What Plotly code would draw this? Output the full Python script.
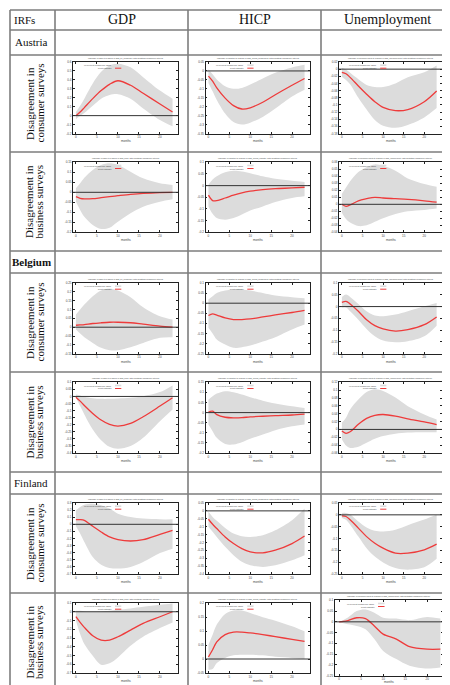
import plotly.graph_objects as go

W, H = 450, 685

# ---------------- data ----------------
months = [0, 1, 2, 4, 6, 8, 10, 13, 16, 20, 23]
x_tick_vals = [0, 5, 10, 15, 20]

header_labels = ["IRFs", "GDP", "HICP", "Unemployment"]
countries = ["Austria", "Belgium", "Finland"]
survey_lines = [["Disagreement in", "consumer surveys"], ["Disagreement in", "business surveys"]]

# Austria - consumer surveys
aut_cons_gdp_pt = [0.0, 0.04, 0.09, 0.19, 0.28, 0.35, 0.39, 0.34, 0.25, 0.13, 0.04]
aut_cons_gdp_lo = [-0.04, 0.0, 0.03, 0.11, 0.19, 0.23, 0.24, 0.19, 0.08, -0.05, -0.12]
aut_cons_gdp_hi = [0.04, 0.11, 0.19, 0.36, 0.49, 0.56, 0.58, 0.54, 0.43, 0.28, 0.19]

aut_cons_hicp_pt = [-0.029, -0.057, -0.095, -0.152, -0.194, -0.213, -0.206, -0.175, -0.133, -0.08, -0.042]
aut_cons_hicp_lo = [-0.067, -0.114, -0.162, -0.238, -0.286, -0.30, -0.29, -0.257, -0.21, -0.143, -0.105]
aut_cons_hicp_hi = [0.01, -0.019, -0.048, -0.086, -0.1, -0.095, -0.076, -0.042, -0.01, 0.019, 0.034]

aut_cons_unemp_pt = [-0.009, -0.013, -0.023, -0.047, -0.07, -0.091, -0.107, -0.116, -0.113, -0.091, -0.061]
aut_cons_unemp_lo = [-0.021, -0.03, -0.042, -0.08, -0.113, -0.142, -0.158, -0.164, -0.156, -0.135, -0.109]
aut_cons_unemp_hi = [0.004, -0.001, -0.01, -0.028, -0.044, -0.05, -0.05, -0.04, -0.023, -0.009, 0.01]

# Austria - business surveys
aut_bus_gdp_pt = [-0.022, -0.03, -0.033, -0.032, -0.027, -0.022, -0.017, -0.01, -0.005, -0.002, 0.0]
aut_bus_gdp_lo = [-0.047, -0.088, -0.122, -0.163, -0.183, -0.177, -0.147, -0.105, -0.072, -0.047, -0.035]
aut_bus_gdp_hi = [0.02, 0.045, 0.073, 0.112, 0.137, 0.145, 0.137, 0.103, 0.07, 0.045, 0.037]

aut_bus_hicp_pt = [-0.041, -0.064, -0.064, -0.053, -0.041, -0.031, -0.024, -0.017, -0.013, -0.01, -0.007]
aut_bus_hicp_lo = [-0.089, -0.121, -0.139, -0.146, -0.139, -0.124, -0.107, -0.089, -0.07, -0.053, -0.046]
aut_bus_hicp_hi = [0.004, 0.026, 0.04, 0.057, 0.064, 0.061, 0.053, 0.04, 0.029, 0.021, 0.016]

aut_bus_unemp_pt = [0.0, -0.003, -0.001, 0.005, 0.008, 0.01, 0.009, 0.008, 0.007, 0.005, 0.003]
aut_bus_unemp_lo = [-0.012, -0.021, -0.026, -0.031, -0.03, -0.025, -0.02, -0.014, -0.01, -0.008, -0.006]
aut_bus_unemp_hi = [0.015, 0.024, 0.033, 0.046, 0.053, 0.057, 0.055, 0.048, 0.037, 0.029, 0.025]

# Belgium - consumer surveys
bel_cons_gdp_pt = [0.011, 0.013, 0.015, 0.021, 0.025, 0.028, 0.028, 0.025, 0.017, 0.006, 0.0]
bel_cons_gdp_lo = [-0.013, -0.036, -0.057, -0.089, -0.117, -0.13, -0.13, -0.113, -0.089, -0.06, -0.057]
bel_cons_gdp_hi = [0.072, 0.1, 0.128, 0.175, 0.208, 0.217, 0.208, 0.17, 0.113, 0.062, 0.043]

bel_cons_hicp_pt = [-0.061, -0.053, -0.059, -0.073, -0.081, -0.081, -0.078, -0.068, -0.058, -0.046, -0.036]
bel_cons_hicp_lo = [-0.122, -0.15, -0.18, -0.205, -0.221, -0.218, -0.21, -0.19, -0.168, -0.13, -0.106]
bel_cons_hicp_hi = [0.018, 0.035, 0.051, 0.063, 0.068, 0.068, 0.063, 0.051, 0.038, 0.03, 0.025]

bel_cons_unemp_pt = [0.018, 0.022, 0.011, -0.02, -0.056, -0.081, -0.095, -0.104, -0.098, -0.077, -0.044]
bel_cons_unemp_lo = [-0.004, -0.004, -0.02, -0.056, -0.095, -0.126, -0.144, -0.151, -0.147, -0.126, -0.081]
bel_cons_unemp_hi = [0.041, 0.051, 0.041, 0.011, -0.02, -0.038, -0.041, -0.034, -0.02, 0.001, 0.015]

# Belgium - business surveys
bel_bus_gdp_pt = [-0.005, -0.033, -0.064, -0.12, -0.167, -0.198, -0.21, -0.191, -0.144, -0.068, -0.009]
bel_bus_gdp_lo = [-0.009, -0.068, -0.127, -0.233, -0.309, -0.356, -0.37, -0.351, -0.292, -0.175, -0.092]
bel_bus_gdp_hi = [0.014, 0.007, -0.002, -0.012, -0.017, -0.017, -0.014, -0.009, 0.002, 0.031, 0.078]

bel_bus_hicp_pt = [0.003, 0.007, -0.01, -0.023, -0.026, -0.025, -0.021, -0.018, -0.015, -0.012, -0.008]
bel_bus_hicp_lo = [-0.059, -0.092, -0.125, -0.155, -0.158, -0.147, -0.13, -0.109, -0.087, -0.068, -0.059]
bel_bus_hicp_hi = [0.064, 0.081, 0.094, 0.106, 0.101, 0.089, 0.076, 0.059, 0.045, 0.031, 0.023]

bel_bus_unemp_pt = [-0.004, -0.01, -0.006, 0.013, 0.028, 0.036, 0.038, 0.034, 0.027, 0.019, 0.012]
bel_bus_unemp_lo = [-0.025, -0.041, -0.047, -0.044, -0.034, -0.024, -0.017, -0.011, -0.008, -0.007, -0.007]
bel_bus_unemp_hi = [0.017, 0.03, 0.051, 0.076, 0.095, 0.102, 0.098, 0.081, 0.059, 0.038, 0.025]

# Finland - consumer surveys
fin_cons_gdp_pt = [0.066, 0.066, 0.056, -0.028, -0.108, -0.178, -0.216, -0.235, -0.216, -0.141, -0.085]
fin_cons_gdp_lo = [-0.028, -0.131, -0.249, -0.46, -0.568, -0.615, -0.624, -0.601, -0.53, -0.404, -0.343]
fin_cons_gdp_hi = [0.197, 0.244, 0.277, 0.291, 0.268, 0.221, 0.15, 0.103, 0.08, 0.07, 0.07]

fin_cons_hicp_pt = [-0.053, -0.085, -0.112, -0.165, -0.207, -0.239, -0.26, -0.266, -0.249, -0.207, -0.159]
fin_cons_hicp_lo = [-0.101, -0.133, -0.165, -0.228, -0.281, -0.323, -0.345, -0.355, -0.345, -0.313, -0.281]
fin_cons_hicp_hi = [-0.006, -0.038, -0.063, -0.108, -0.144, -0.161, -0.165, -0.154, -0.123, -0.059, 0.015]

fin_cons_unemp_pt = [-0.004, -0.007, -0.021, -0.056, -0.092, -0.12, -0.141, -0.162, -0.162, -0.148, -0.124]
fin_cons_unemp_lo = [-0.013, -0.021, -0.042, -0.092, -0.141, -0.176, -0.201, -0.225, -0.232, -0.222, -0.186]
fin_cons_unemp_hi = [0.008, 0.008, 0.001, -0.028, -0.053, -0.067, -0.07, -0.063, -0.044, -0.02, 0.0]

# Finland - business surveys
fin_bus_gdp_pt = [-0.057, -0.122, -0.179, -0.274, -0.324, -0.324, -0.286, -0.21, -0.133, -0.057, 0.0]
fin_bus_gdp_lo = [-0.103, -0.255, -0.37, -0.503, -0.606, -0.59, -0.522, -0.389, -0.286, -0.187, -0.122]
fin_bus_gdp_hi = [0.011, 0.011, 0.004, 0.0, 0.004, 0.011, 0.023, 0.038, 0.057, 0.08, 0.095]

fin_bus_hicp_pt = [0.007, 0.033, 0.061, 0.087, 0.096, 0.096, 0.093, 0.087, 0.08, 0.07, 0.063]
fin_bus_hicp_lo = [-0.038, -0.036, -0.014, 0.004, 0.013, 0.015, 0.015, 0.013, 0.008, 0.004, 0.0]
fin_bus_hicp_hi = [0.051, 0.087, 0.123, 0.161, 0.173, 0.173, 0.164, 0.149, 0.137, 0.117, 0.099]

fin_bus_unemp_pt = [0.0, 0.002, 0.006, 0.019, 0.015, -0.019, -0.057, -0.08, -0.115, -0.127, -0.127]
fin_bus_unemp_lo = [-0.003, -0.006, -0.011, -0.019, -0.034, -0.08, -0.135, -0.173, -0.204, -0.217, -0.212]
fin_bus_unemp_hi = [0.0, 0.009, 0.02, 0.05, 0.057, 0.042, 0.019, 0.015, 0.008, 0.023, 0.015]

# y-axis ranges/steps (tick labels) per panel
yaxis_specs = {
    "aut_cons_gdp": (-0.2, 0.6, 0.1), "aut_cons_hicp": (-0.35, 0.05, 0.05), "aut_cons_unemp": (-0.18, 0.02, 0.02),
    "aut_bus_gdp": (-0.2, 0.15, 0.05), "aut_bus_hicp": (-0.2, 0.1, 0.05), "aut_bus_unemp": (-0.04, 0.06, 0.01),
    "bel_cons_gdp": (-0.15, 0.25, 0.05), "bel_cons_hicp": (-0.25, 0.1, 0.05), "bel_cons_unemp": (-0.2, 0.1, 0.05),
    "bel_bus_gdp": (-0.4, 0.1, 0.05), "bel_bus_hicp": (-0.2, 0.15, 0.05), "bel_bus_unemp": (-0.06, 0.12, 0.02),
    "fin_cons_gdp": (-0.7, 0.3, 0.1), "fin_cons_hicp": (-0.4, 0.05, 0.05), "fin_cons_unemp": (-0.25, 0.05, 0.05),
    "fin_bus_gdp": (-0.7, 0.1, 0.1), "fin_bus_hicp": (-0.05, 0.2, 0.05), "fin_bus_unemp": (-0.25, 0.1, 0.05),
}

shock_names = {
    "cons": ["diss_av_consumer", "diss_prices_consumers", "diss_unemployment"],
    "bus": ["diss_prod", "diss_prices_industry", "diss_employment"],
}
resp_names = ["GDP", "inflation", "unemployment"]

data = globals()

# ---------------- layout geometry (pixels) ----------------
h_lines = [2, 22, 47, 144, 243, 265, 364, 464, 486, 585, 683]
v_lines = [2, 47, 180, 313, 446]
col_box = [(65, 170), (197.5, 302), (331, 434)]
row_box = [(54, 125.5), (154.3, 224.3), (275, 345.7), (374.3, 445), (495, 566), (595, 665)]
plot_rows = [(47, 144), (144, 243), (265, 364), (364, 464), (486, 585), (585, 683)]
country_rows = [(22, 47), (243, 265), (464, 486)]

SERIF = "Liberation Serif"
SANS = "Liberation Sans"


def px(p):
    return p / W


def py(p):
    return 1 - p / H


fig = go.Figure()
shapes = []
annotations = []
layout_axes = {}

keys = []
for ci, cc in enumerate(["aut", "bel", "fin"]):
    for si, ss in enumerate(["cons", "bus"]):
        for vi, vv in enumerate(["gdp", "hicp", "unemp"]):
            keys.append((ci * 2 + si, vi, f"{cc}_{ss}_{vv}", ss))

for k, (ri, vi, key, ss) in enumerate(keys):
    n = k + 1
    xa = "x" if n == 1 else f"x{n}"
    ya = "y" if n == 1 else f"y{n}"
    l, r = col_box[vi]
    t, b = row_box[ri]
    xr = [-0.7, 24.3]
    lab_off = 8
    if key == "fin_bus_unemp":
        l, r, t, b = 326.7, 435, 592.3, 667.7
        xr = [-1.0, 23.6]
        lab_off = 6.5
    pt = data[key + "_pt"]
    lo = data[key + "_lo"]
    hi = data[key + "_hi"]
    ymin, ymax, step = yaxis_specs[key]

    fig.add_trace(go.Scatter(x=months, y=lo, xaxis=xa, yaxis=ya, mode="lines",
                             line=dict(width=0, shape="spline", smoothing=0.9),
                             hoverinfo="skip", showlegend=False))
    fig.add_trace(go.Scatter(x=months, y=hi, xaxis=xa, yaxis=ya, mode="lines",
                             line=dict(width=0, shape="spline", smoothing=0.9),
                             fill="tonexty", fillcolor="#dcdcdc",
                             hoverinfo="skip", showlegend=False))
    fig.add_trace(go.Scatter(x=months, y=pt, xaxis=xa, yaxis=ya, mode="lines",
                             line=dict(width=1.3, color="#ee3b3b", shape="spline", smoothing=0.9),
                             showlegend=False))

    nt = int(round((ymax - ymin) / step))
    yt = [round(ymin + i * step, 4) for i in range(nt + 1)]
    ytxt = [("%g" % v) if abs(v) > 1e-9 else "0" for v in yt]

    common = dict(showline=True, mirror="ticks", linecolor="#222", linewidth=0.8,
                  ticks="inside", ticklen=2, tickwidth=0.5, tickcolor="#222",
                  showgrid=False, zeroline=False,
                  tickfont=dict(size=3, color="#444", family=SANS))
    xkey = "xaxis" if n == 1 else f"xaxis{n}"
    ykey = "yaxis" if n == 1 else f"yaxis{n}"
    layout_axes[xkey] = dict(domain=[px(l), px(r)], anchor=ya, range=xr,
                             tickvals=x_tick_vals, **common)
    layout_axes[ykey] = dict(domain=[py(b), py(t)], anchor=xa, range=[ymin, ymax],
                             tickvals=yt, ticktext=ytxt, **common)

    # zero line
    shapes.append(dict(type="line", xref=f"{xa} domain", yref=ya, x0=0, x1=1, y0=0, y1=0,
                       line=dict(color="#333", width=1)))

    # title
    title = f"response of {resp_names[vi]} to a shock in {shock_names[ss][vi]}, with bootstrap confidence interval"
    annotations.append(dict(xref="paper", yref="paper", x=px((l + r) / 2), y=py(t - 3.5),
                            text=title, showarrow=False, xanchor="center", yanchor="middle",
                            font=dict(size=2, color="#444", family=SANS)))
    # x label
    annotations.append(dict(xref="paper", yref="paper", x=px((l + r) / 2), y=py(b + lab_off),
                            text="months", showarrow=False, xanchor="center", yanchor="middle",
                            font=dict(size=3, color="#444", family=SANS)))
    # legend
    w = r - l
    lx = l + 0.40 * w
    for j, (lab, kind) in enumerate([("90 percent confidence band", "band"), ("point estimate", "line")]):
        yy = t + 3.2 + 3.0 * j
        annotations.append(dict(xref="paper", yref="paper", x=px(lx - 1), y=py(yy),
                                text=lab, showarrow=False, xanchor="right", yanchor="middle",
                                font=dict(size=2.2, color="#444", family=SANS)))
        if kind == "band":
            shapes.append(dict(type="rect", xref="paper", yref="paper",
                               x0=px(lx), x1=px(lx + 0.06 * w), y0=py(yy + 0.8), y1=py(yy - 0.8),
                               fillcolor="#dcdcdc", line=dict(width=0)))
        else:
            shapes.append(dict(type="line", xref="paper", yref="paper",
                               x0=px(lx), x1=px(lx + 0.06 * w), y0=py(yy), y1=py(yy),
                               line=dict(color="#ee3b3b", width=1)))

# ---------------- table grid ----------------
GRID = "#7d7d7d"
for yv in h_lines:
    shapes.append(dict(type="line", xref="paper", yref="paper", x0=px(v_lines[0]), x1=px(v_lines[-1]),
                       y0=py(yv), y1=py(yv), line=dict(color=GRID, width=1.6)))
for xv in v_lines:
    shapes.append(dict(type="line", xref="paper", yref="paper", x0=px(xv), x1=px(xv),
                       y0=py(h_lines[0]), y1=py(h_lines[-1]), line=dict(color=GRID, width=1.6)))

# header
hx = [16, 113.5, 246.5, 379.5]
hs = [11, 14, 14, 14]
for lab, x, s in zip(header_labels, hx, hs):
    annotations.append(dict(xref="paper", yref="paper", x=px(x), y=py(12), text=lab, showarrow=False,
                            xanchor="center", yanchor="middle", font=dict(size=s, color="#111", family=SERIF)))

# country rows
for i, (c, (t0, t1)) in enumerate(zip(countries, country_rows)):
    txt = f"<b>{c}</b>" if c == "Belgium" else c
    annotations.append(dict(xref="paper", yref="paper", x=px(23), y=py((t0 + t1) / 2), text=txt,
                            showarrow=False, xanchor="center", yanchor="middle",
                            font=dict(size=11, color="#111", family=SERIF)))

# row labels
for i, (t0, t1) in enumerate(plot_rows):
    lines = survey_lines[i % 2]
    for j, ln in enumerate(lines):
        annotations.append(dict(xref="paper", yref="paper", x=px(21.5 + 9.5 * j), y=py((t0 + t1) / 2),
                                text=ln, showarrow=False, textangle=-90,
                                xanchor="center", yanchor="middle",
                                font=dict(size=11, color="#111", family=SERIF)))

fig.update_layout(width=W, height=H, margin=dict(l=0, r=0, t=0, b=0),
                  paper_bgcolor="white", plot_bgcolor="white", template="none",
                  showlegend=False, shapes=shapes, annotations=annotations, **layout_axes)

fig.write_html("out.html")
